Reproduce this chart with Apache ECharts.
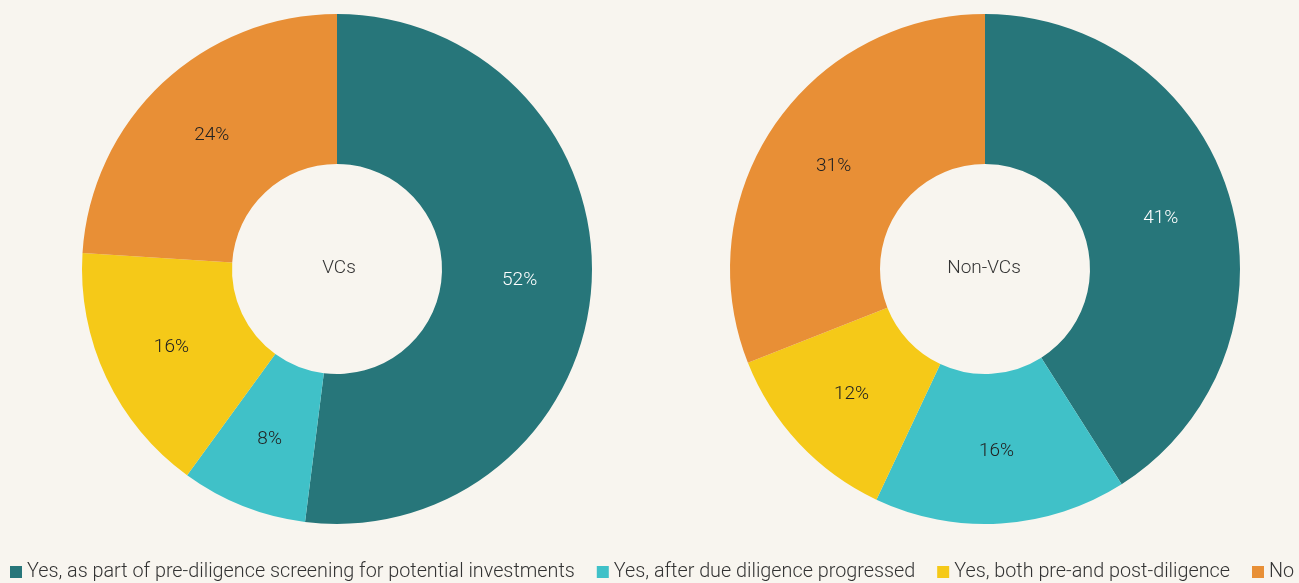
<!DOCTYPE html>
<html><head><meta charset="utf-8">
<script src="https://cdn.jsdelivr.net/npm/echarts@6/dist/echarts.min.js"></script>
<style>html,body{margin:0;padding:0;background:#f8f5ef;}#c{width:1299px;height:583px;}</style>
</head><body><div id="c"></div>
<script>
const categories = [
  "Yes, as part of pre-diligence screening for potential investments",
  "Yes, after due diligence progressed",
  "Yes, both pre-and post-diligence",
  "No"
];
const groups = ["VCs", "Non-VCs"];
const vcValues = [52, 8, 16, 24];
const nonVcValues = [41, 16, 12, 31];
const colors = ["#27767a", "#40c1c8", "#f5c918", "#e88f36"];
const labelColors = ["#ffffff", "#222222", "#222222", "#222222"];
const FONT = "Roboto, sans-serif";

function mkData(vals) {
  return vals.map((v, i) => ({
    name: categories[i], value: v,
    label: { color: labelColors[i] }
  }));
}
function mkSeries(name, vals, cx) {
  return {
    type: 'pie', name: name,
    center: [cx, 269], radius: [105, 255],
    startAngle: 90, clockwise: true,
    avoidLabelOverlap: false,
    label: { show: true, position: 'inside', formatter: '{c}%', fontFamily: FONT, fontSize: 19, fontWeight: 300 },
    labelLine: { show: false },
    emphasis: { disabled: true },
    itemStyle: { borderWidth: 0 },
    data: mkData(vals)
  };
}
const chart = echarts.init(document.getElementById('c'));
chart.setOption({
  backgroundColor: '#f8f5ef',
  color: colors,
  animation: false,
  graphic: [
    { type: 'text', x: 339, y: 268, style: { text: groups[0], align: 'center', verticalAlign: 'middle',
      font: '300 19px Roboto, sans-serif', fill: '#333' } },
    { type: 'text', x: 984, y: 268, style: { text: groups[1], align: 'center', verticalAlign: 'middle',
      font: '300 19px Roboto, sans-serif', fill: '#333' } }
  ],
  legend: {
    left: 10, top: 562, width: 2400, orient: 'horizontal', padding: 0,
    itemWidth: 12, itemHeight: 12, itemGap: 22, icon: 'rect',
    textStyle: { fontFamily: FONT, fontSize: 19.8, fontWeight: 300, color: '#333' },
    data: categories, selectedMode: false
  },
  series: [ mkSeries(groups[0], vcValues, 337), mkSeries(groups[1], nonVcValues, 985) ]
});
</script></body></html>
